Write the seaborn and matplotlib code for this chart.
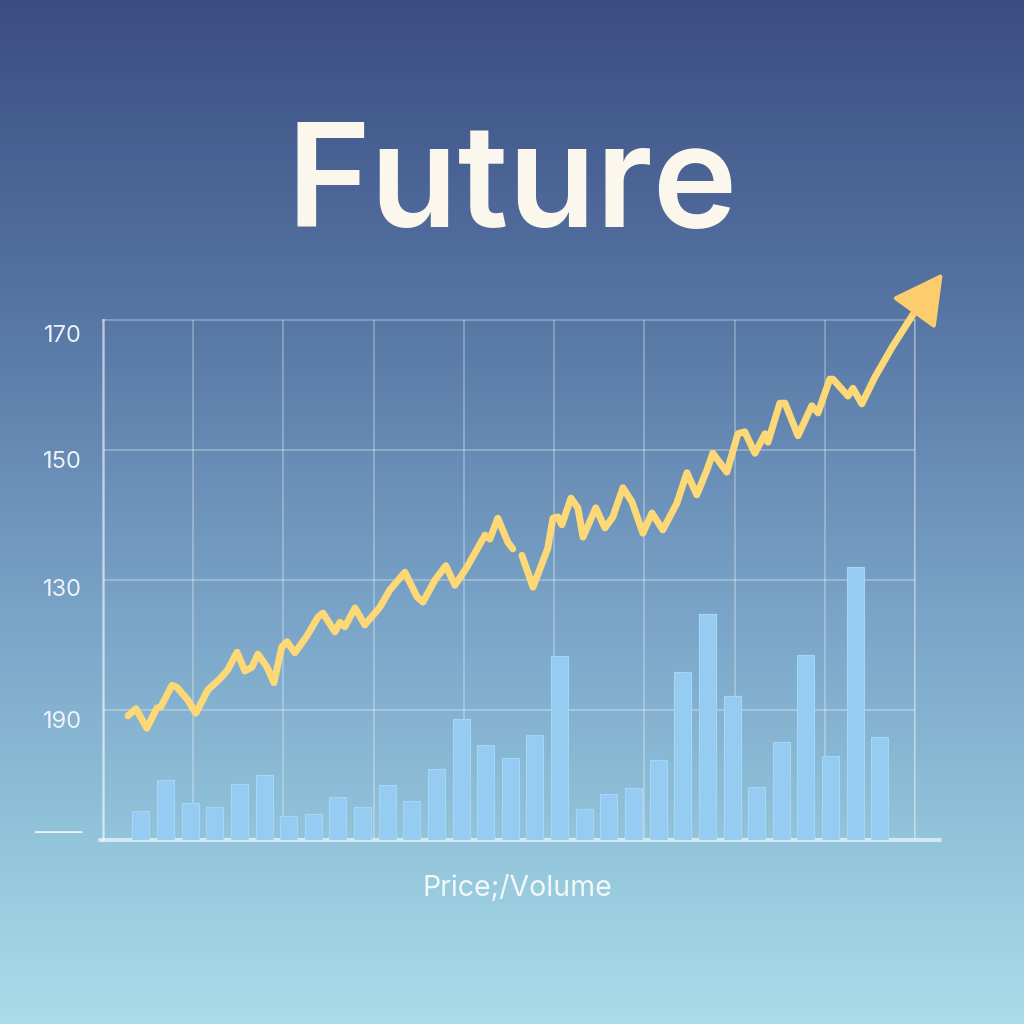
import numpy as np
import matplotlib
matplotlib.use("Agg")
import matplotlib.pyplot as plt
from matplotlib.colors import LinearSegmentedColormap
import seaborn as sns

# price path (trading day, price); the feed breaks after point GAP_AFTER
day = [0.47, 0.80, 1.24, 1.65, 1.81, 2.26, 2.46, 2.91, 3.23, 3.72, 4.21, 4.53, 4.90, 5.22, 5.51,
       5.75, 6.12, 6.40, 6.72, 6.93, 7.25, 7.74, 8.19, 8.39, 8.88, 9.08, 9.28, 9.69, 10.09, 10.70,
       11.11, 11.72, 12.21, 12.45, 12.94, 13.38, 13.75, 14.24, 14.97, 15.17, 15.49, 15.90, 16.10,
       16.47, 16.92, 17.52, 17.73, 17.93, 18.09, 18.46, 18.74, 18.95, 19.47, 19.84, 20.16, 20.57,
       20.94, 21.38, 21.75, 22.19, 22.76, 23.17, 23.57, 23.98, 24.22, 24.79, 25.24, 25.52, 25.93,
       26.34, 26.46, 26.94, 27.15, 27.68, 28.24, 28.49, 28.97, 29.10, 29.71, 29.91, 30.27, 30.80,
       31.53, 32.34]
price = [109.1, 110.2, 107.2, 110.3, 110.5, 113.8, 113.5, 111.5, 109.5, 113.1, 114.8, 116.2, 118.9,
         116.0, 116.6, 118.6, 116.6, 114.2, 119.7, 120.5, 118.8, 121.4, 124.3, 124.9, 122.0, 123.5,
         122.8, 125.7, 123.1, 125.8, 128.5, 131.2, 127.4, 126.6, 130.0, 132.2, 129.2, 132.0, 136.9,
         136.3, 139.5, 135.8, 134.8,
         133.8, 128.9, 134.9, 139.5, 139.7, 138.5, 142.6, 141.1, 136.6, 141.1, 138.0, 139.7, 144.2,
         142.0, 137.2, 140.3, 137.7, 141.8, 146.5, 143.1, 146.9, 149.5, 146.6, 152.5, 152.8, 149.5,
         152.5, 151.2, 157.2, 157.2, 152.2, 156.8, 155.7, 160.9, 160.9, 158.3, 159.5, 157.1, 161.2,
         166.0, 170.8]
GAP_AFTER = 43
arrow_tip = (33.56, 177.2)

# volume per day
bar_day = list(range(1, 32))
volume = [29, 60, 37, 33, 56, 65, 24, 26, 43, 33, 55, 39, 71, 121, 95, 82, 105, 184, 31, 46,
          52, 80, 168, 226, 144, 53, 98, 185, 84, 273, 103]

grid_levels = [150, 130, 110]
label_pos = [168.0, 148.6, 128.9, 108.5, 91.4]
label_text = ["170", "150", "130", "190", "——"]

sns.set_theme(style="white")
plt.rcParams["font.family"] = ["Inter", "DejaVu Sans"]

fig = plt.figure(figsize=(10.24, 10.24), dpi=100)

# gradient backdrop
bg = fig.add_axes([0, 0, 1, 1], zorder=0)
cmap = LinearSegmentedColormap.from_list(
    "sky", [(0, "#3b4d83"), (0.3, "#5675a3"), (0.6, "#7aa4c8"), (0.82, "#92c4da"), (1, "#a9dde9")])
bg.imshow(np.linspace(0, 1, 256)[:, None], aspect="auto", cmap=cmap, extent=[0, 1, 0, 1])
bg.set_axis_off()

rect = [103 / 1024, 1 - 840 / 1024, 812 / 1024, 520 / 1024]
xlim = (-0.54, 32.43)
ylim = (90, 170)

# base layer: grid, spines, tick labels
ax = fig.add_axes(rect, zorder=1)
ax.patch.set_visible(False)
ax.set_xlim(xlim)
ax.set_ylim(ylim)
ax.set_xticks(np.linspace(xlim[0], xlim[1], 10))
ax.set_xticklabels([])
ax.set_yticks(grid_levels, minor=True)
ax.set_yticks(label_pos, label_text)
ax.tick_params(axis="x", length=0)
ax.tick_params(axis="y", which="both", length=0, pad=15, labelsize=17, labelcolor="#edf3f9")
ax.grid(False)
ax.xaxis.grid(True, color="white", alpha=0.28, lw=1.4)
ax.yaxis.grid(True, which="minor", color="white", alpha=0.28, lw=1.4)
for side in ["top", "right"]:
    ax.spines[side].set_color((1, 1, 1, 0.28))
    ax.spines[side].set_linewidth(1.4)
ax.spines["left"].set_color((1, 1, 1, 0.45))
ax.spines["left"].set_linewidth(2)
ax.spines["bottom"].set_visible(False)
ax.axhline(90, xmin=-0.004, xmax=1.031, color="#d3e8f2", lw=3, clip_on=False)

# volume bars
ax_vol = fig.add_axes(rect, zorder=2, sharex=ax)
ax_vol.patch.set_visible(False)
sns.barplot(x=bar_day, y=volume, native_scale=True, width=0.69, color="#96ccf1",
            saturation=1, edgecolor="#a5d6f6", linewidth=0.8, ax=ax_vol)
ax_vol.set_ylim(0, 520)
ax_vol.set_xlim(xlim)
ax_vol.set_axis_off()

# price line on top
ax_line = fig.add_axes(rect, zorder=3, sharex=ax)
ax_line.patch.set_visible(False)
seg = (np.arange(len(day)) >= GAP_AFTER).astype(int)
sns.lineplot(x=day, y=price, units=seg, estimator=None, sort=False, color="#fcd877",
             linewidth=5, solid_joinstyle="round", solid_capstyle="round",
             clip_on=False, ax=ax_line)
ax_line.annotate("", xy=arrow_tip, xytext=(day[-1], price[-1]), annotation_clip=False,
                 arrowprops=dict(arrowstyle="-|>,head_length=0.78,head_width=0.42",
                                 mutation_scale=40, color="#fdcc6c", lw=3,
                                 shrinkA=0, shrinkB=0))
ax_line.set_xlim(xlim)
ax_line.set_ylim(ylim)
ax_line.set_axis_off()

fig.text(0.5, 1 - 227 / 1024, "Future", ha="center", va="baseline", fontsize=103,
         fontweight="semibold", color="#fcf7ec")
fig.text(0.505, 1 - 896 / 1024, "Price;/Volume", ha="center", va="baseline", fontsize=20.5,
         color="#f2f7fa")

fig.savefig("out.png", dpi=100)
